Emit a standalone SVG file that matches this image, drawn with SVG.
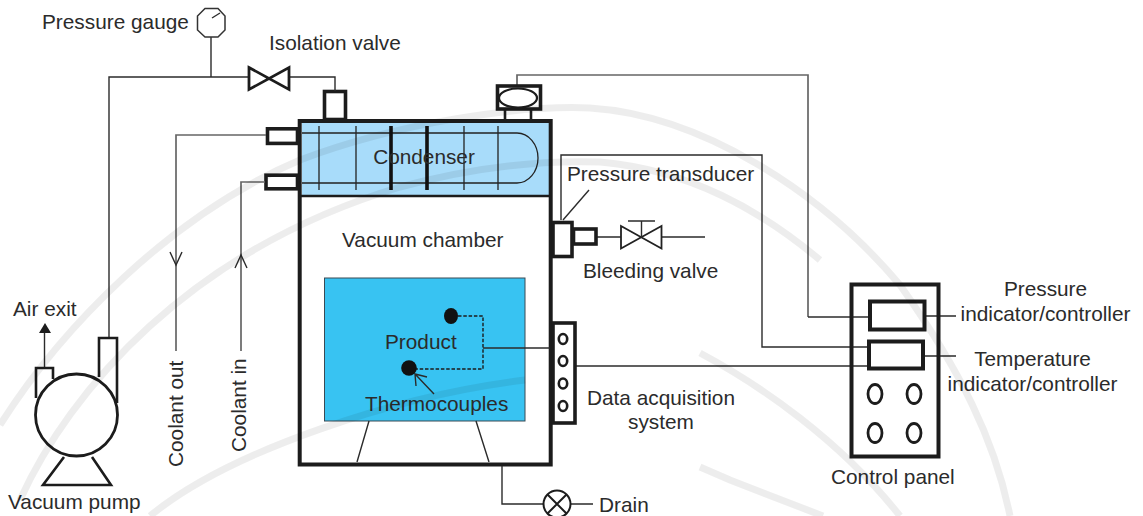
<svg xmlns="http://www.w3.org/2000/svg" width="1143" height="516" viewBox="0 0 1143 516">
<style>
text{font-family:"Liberation Sans",Arial,sans-serif;font-size:20.8px;fill:#2b2b2b}
.m{text-anchor:middle}
.l{fill:none;stroke:#2b2b2b;stroke-width:1.4}
.g{fill:none;stroke:#666;stroke-width:1.7}
.t{fill:none;stroke:#1c1c1c;stroke-width:2.6}
.k{fill:#fff;stroke:#1c1c1c;stroke-width:3.6}
.n{fill:none;stroke:#1c1c1c;stroke-width:4}
.wm{fill:none;stroke:#000;stroke-opacity:.07;stroke-width:7}
</style>
<rect width="1143" height="516" fill="#fff"/>
<g id="chamber">
<rect x="302" y="123" width="247" height="73" fill="#a8dcfa"/>
<rect x="324.5" y="278" width="200.5" height="143" fill="#38c3f2" stroke="#3a4a55" stroke-width="1"/>
<rect class="n" x="299.7" y="121" width="251" height="343.5" stroke-width="4.6"/>
<path d="M300 196H551" stroke="#1c1c1c" stroke-width="2.6"/>
<path class="l" d="M369 421L357 462M476 421L489 462"/>
</g>
<g id="condenser">
<path fill="none" stroke="#222" stroke-width="1.3" d="M302 133H517A21 25 0 0 1 517 183H302M319 126V190M356 126V190M464 126V190M498 126V190"/>
<path stroke="#111" stroke-width="3.6" d="M391 126V190M427 126V190"/>
<text class="m" x="424" y="164">Condenser</text>
</g>
<g id="nozzles">
<rect class="k" x="324.5" y="91.5" width="21" height="28"/>
<rect class="k" x="267.5" y="128.8" width="30" height="14.6"/>
<rect class="k" x="266" y="175.2" width="31.5" height="13.6"/>
</g>
<g id="connectors">
<path class="l" d="M109 338V77H248M211 77V37M290 77H335V91"/>
<path class="g" d="M266 135H176V351M265 182H241V351"/>
<path class="l" d="M170 252L176 265L182 252M235 268L241 255L247 268"/>
<path class="g" d="M517 85V75H808V317"/>
<path class="l" d="M808 317H869"/>
<path class="l" d="M561 220V155H762V347H868"/>
<path class="l" d="M576 366H868"/>
<path class="l" d="M483 348H550"/>
<path class="l" d="M589 190L563 220"/>
<path class="l" d="M597 237H621M662 237H705"/>
<path class="l" d="M502 466V504H543M571 504H593"/>
<path class="l" d="M926 316H956M924 356H956"/>
<path class="l" d="M44.5 368V332"/>
<path d="M45 323L39 333H51Z" fill="#1c1c1c"/>
<path fill="none" stroke="#1c1c1c" stroke-width="1.4" stroke-dasharray="3.5 1.8" d="M458 316H483V369H416"/>
<path class="l" d="M434 394L415 374M416 386L415 374L427 377"/>
</g>
<g id="pressure-gauge">
<path fill="#fff" stroke="#333" stroke-width="1.5" d="M205 8.5H218L225 16V30L218 37H205L197.5 30V16Z"/>
<path class="l" d="M212 18L220 13"/>
<text x="42" y="29">Pressure gauge</text>
</g>
<g id="isolation-valve">
<path fill="#fff" stroke="#1c1c1c" stroke-width="2.8" d="M249 67.5L289 89.5V67.5L249 89.5Z"/>
<text x="269" y="50">Isolation valve</text>
</g>
<g id="temperature-sensor-head">
<path class="t" d="M505 110V121M531 110V121"/>
<rect class="k" x="497.5" y="86" width="43" height="23"/>
<ellipse cx="518" cy="98" rx="19" ry="9.5" fill="#fff" stroke="#1c1c1c" stroke-width="2.2"/>
</g>
<g id="vacuum-pump">
<path class="t" d="M36 398V368H53V379M99 377V338H117V403"/>
<path class="t" d="M64 457L43 485H111L92 457"/>
<circle cx="76.5" cy="415" r="41" fill="#fff" stroke="#1c1c1c" stroke-width="2.8"/>
<text x="13" y="316">Air exit</text>
<text x="8" y="509">Vacuum pump</text>
</g>
<g id="product">
<ellipse cx="451" cy="316" rx="7" ry="8" fill="#111"/>
<circle cx="409" cy="368" r="7.8" fill="#111"/>
<text x="385" y="349">Product</text>
<text x="365" y="411">Thermocouples</text>
</g>
<g id="data-acquisition">
<rect class="k" x="553" y="323" width="22" height="100"/>
<g fill="none" stroke="#1c1c1c" stroke-width="2.6">
<ellipse cx="563" cy="339" rx="4.2" ry="5"/>
<ellipse cx="563" cy="361" rx="4.2" ry="5"/>
<ellipse cx="563" cy="383.500" rx="4.2" ry="5"/>
<ellipse cx="563" cy="406" rx="4.2" ry="5"/>
</g>
<text class="m" x="661" y="405">Data acquisition</text>
<text class="m" x="661" y="429">system</text>
</g>
<g id="pressure-transducer">
<rect class="k" x="553" y="222.5" width="19" height="34"/>
<rect class="k" x="573.5" y="229" width="22.5" height="15"/>
<text x="567" y="181">Pressure transducer</text>
</g>
<g id="bleeding-valve">
<path fill="none" stroke="#222" stroke-width="1.8" d="M621 226L661.5 248.5V226L621 248.5Z"/>
<path class="l" d="M641.5 237V221M628 221H655"/>
<text x="583" y="278">Bleeding valve</text>
</g>
<g id="drain">
<circle cx="557" cy="504" r="13.5" fill="#fff" stroke="#1c1c1c" stroke-width="2"/>
<path stroke="#1c1c1c" stroke-width="2" d="M547.5 494.5L566.5 513.5M566.5 494.5L547.5 513.5"/>
<text x="599" y="512">Drain</text>
</g>
<g id="control-panel">
<rect class="n" x="851.5" y="284.5" width="87" height="172"/>
<rect class="n" x="870" y="301.5" width="54.5" height="28"/>
<rect class="n" x="869" y="341.5" width="54" height="27"/>
<g fill="none" stroke="#1c1c1c" stroke-width="2.8">
<ellipse cx="875" cy="394" rx="7" ry="9.5"/>
<ellipse cx="914" cy="394" rx="7" ry="9.5"/>
<ellipse cx="875" cy="433" rx="7" ry="9.5"/>
<ellipse cx="914" cy="433" rx="7" ry="9.5"/>
</g>
<text x="831" y="484">Control panel</text>
<text class="m" x="1045.5" y="296">Pressure</text>
<text class="m" x="1045.5" y="321">indicator/controller</text>
<text class="m" x="1032.5" y="366">Temperature</text>
<text class="m" x="1032.5" y="391">indicator/controller</text>
</g>
<g id="labels">
<text x="342" y="247">Vacuum chamber</text>
<text transform="translate(183 467) rotate(-90)">Coolant out</text>
<text transform="translate(246 452) rotate(-90)">Coolant in</text>
</g>
<g id="watermark">
<path class="wm" d="M0 425C60 330 170 215 300 160C400 122 520 105 590 108C700 115 820 190 900 285C960 370 995 440 1010 516"/>
<path class="wm" d="M20 500C70 390 190 250 400 187C470 168 540 160 600 162C690 170 760 210 820 260"/>
<path class="wm" d="M150 516C230 450 400 395 525 380"/>
<path class="wm" d="M700 467L730 480L823 516"/>
<path class="wm" d="M700 353C760 385 840 440 900 516"/>
</g>
</svg>
